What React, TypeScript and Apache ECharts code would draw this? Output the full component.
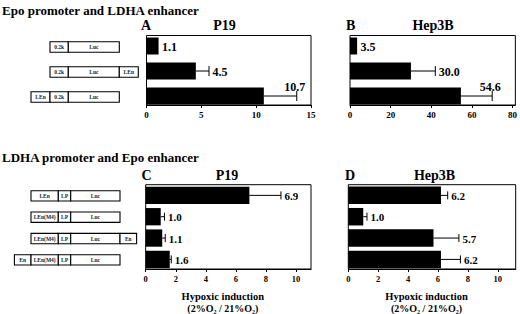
import React, { useEffect, useRef } from "react";
import * as echarts from "echarts";

// ---- text content ----
const sectionTitles = ["Epo promoter and LDHA enhancer", "LDHA promoter and Epo enhancer"];
const panelLetters = ["A", "B", "C", "D"];
const panelCells = ["P19", "Hep3B", "P19", "Hep3B"];
const xAxisName = "Hypoxic induction";
const xAxisUnit = "(2%O₂ / 21%O₂)";

// ---- constructs (segment labels, left to right) ----
const epoConstructs = [
  ["0.2k", "Luc"],
  ["0.2k", "Luc", "LEn"],
  ["LEn", "0.2k", "Luc"],
];
const ldhaConstructs = [
  ["LEn", "LP", "Luc"],
  ["LEn(M4)", "LP", "Luc"],
  ["LEn(M4)", "LP", "Luc", "En"],
  ["En", "LEn(M4)", "LP", "Luc"],
];

// ---- values (bar value, SD) ----
const p19EpoValues = [1.1, 4.5, 10.7];
const p19EpoErrors = [0, 1.2, 3.0];
const hep3bEpoValues = [3.5, 30.0, 54.6];
const hep3bEpoErrors = [0, 12, 15.4];
const p19LdhaValues = [6.9, 1.0, 1.1, 1.6];
const p19LdhaErrors = [2.1, 0.25, 0.2, 0.1];
const hep3bLdhaValues = [6.2, 1.0, 5.7, 6.2];
const hep3bLdhaErrors = [0.45, 0.25, 1.7, 1.3];

// ---- tick labels ----
const p19EpoTicks = [0, 5, 10, 15];
const hep3bEpoTicks = [0, 20, 40, 60, 80];
const ldhaTicks = [0, 2, 4, 6, 8, 10];

const SERIF = '"Liberation Serif", "Times New Roman", serif';

type Panel = {
  grid: { left: number; top: number; width: number; height: number };
  xMax: number;
  ticks: number[];
  yMin: number;
  yMax: number;
  barFrac: number;
  cap: number;
  labelSize: number;
  tickSize: number;
  values: number[];
  errors: number[];
  showName: boolean;
};

const panels: Panel[] = [
  {
    grid: { left: 146.5, top: 35.5, width: 164.5, height: 69.5 },
    xMax: 15, ticks: p19EpoTicks, yMin: -0.42, yMax: 2.36, barFrac: 0.68, cap: 5,
    labelSize: 12, tickSize: 9, values: p19EpoValues, errors: p19EpoErrors, showName: false,
  },
  {
    grid: { left: 350, top: 35.5, width: 165.5, height: 69.5 },
    xMax: 81.4, ticks: hep3bEpoTicks, yMin: -0.42, yMax: 2.36, barFrac: 0.68, cap: 5,
    labelSize: 12, tickSize: 9, values: hep3bEpoValues, errors: hep3bEpoErrors, showName: false,
  },
  {
    grid: { left: 145.7, top: 184.7, width: 165.3, height: 84.6 },
    xMax: 11, ticks: ldhaTicks, yMin: -0.5, yMax: 3.45, barFrac: 0.81, cap: 4,
    labelSize: 11, tickSize: 8.5, values: p19LdhaValues, errors: p19LdhaErrors, showName: true,
  },
  {
    grid: { left: 348.3, top: 184.7, width: 167.4, height: 84.6 },
    xMax: 11.2, ticks: ldhaTicks, yMin: -0.5, yMax: 3.45, barFrac: 0.82, cap: 4,
    labelSize: 11, tickSize: 8.5, values: hep3bLdhaValues, errors: hep3bLdhaErrors, showName: true,
  },
];

// construct drawing layout
const epoSegWidths: Record<string, number> = { "0.2k": 18.3, Luc: 51, LEn: 19 };
const ldhaSegWidths: Record<string, number> = { LEn: 27.3, "LEn(M4)": 27.3, LP: 12.4, Luc: 49.3, En: 16.6 };

export default function App() {
  const ref = useRef<HTMLDivElement>(null);

  useEffect(() => {
    if (!ref.current) return;
    const chart = echarts.init(ref.current, undefined, { renderer: "svg" });

    const grids = panels.map((p) => ({
      ...p.grid,
      show: true,
      borderColor: "#000",
      borderWidth: 1,
      backgroundColor: "transparent",
      containLabel: false,
    }));

    const xAxes = panels.map((p, gi) => {
      const interval = p.ticks[1] - p.ticks[0];
      return {
        type: "value",
        gridIndex: gi,
        position: "bottom",
        min: 0,
        max: p.xMax,
        interval,
        splitLine: { show: false },
        axisLine: { show: true, onZero: false, lineStyle: { color: "#000", width: 1 } },
        axisTick: { show: true, length: 3, lineStyle: { color: "#000" } },
        axisLabel: {
          show: true,
          margin: 5,
          color: "#000",
          fontFamily: SERIF,
          fontWeight: "bold",
          fontSize: p.tickSize,
          showMaxLabel: p.ticks.includes(p.xMax) ? true : false,
          formatter: (v: number) => (p.ticks.includes(v) ? String(v) : ""),
        },
        name: p.showName ? `{a|${xAxisName}}\n{b|${xAxisUnit}}` : "",
        nameLocation: "middle",
        nameGap: 21,
        nameTextStyle: {
          color: "#000",
          fontFamily: SERIF,
          padding: [0, 11, 0, 0],
          rich: {
            a: { fontFamily: SERIF, fontWeight: "bold", fontSize: 10.5, lineHeight: 12, color: "#000" },
            b: { fontFamily: SERIF, fontWeight: "bold", fontSize: 10, lineHeight: 12, color: "#000" },
          },
        },
      };
    });

    const yAxes = panels.map((p, gi) => ({
      type: "value",
      gridIndex: gi,
      min: p.yMin,
      max: p.yMax,
      inverse: true,
      show: false,
      axisLine: { show: false, onZero: false },
      splitLine: { show: false },
    }));

    const series = panels.map((p, gi) => ({
      type: "custom",
      xAxisIndex: gi,
      yAxisIndex: gi,
      encode: { x: [0, 1], y: 2 },
      data: p.values.map((v, i) => [v, p.errors[i], i]),
      renderItem: (params: any, api: any) => {
        const v = api.value(0) as number;
        const e = api.value(1) as number;
        const i = api.value(2) as number;
        const start = api.coord([0, i]);
        const end = api.coord([v, i]);
        const capPt = api.coord([v + e, i]);
        const band = Math.abs(api.size([0, 1])[1]);
        const h = band * p.barFrac;
        const children: any[] = [
          {
            type: "rect",
            shape: { x: start[0], y: start[1] - h / 2, width: end[0] - start[0], height: h },
            style: { fill: "#000" },
          },
        ];
        if (e > 0) {
          children.push({
            type: "line",
            shape: { x1: end[0], y1: end[1], x2: capPt[0], y2: capPt[1] },
            style: { stroke: "#000", lineWidth: 1 },
          });
          children.push({
            type: "line",
            shape: { x1: capPt[0], y1: capPt[1] - p.cap, x2: capPt[0], y2: capPt[1] + p.cap },
            style: { stroke: "#000", lineWidth: 1 },
          });
        }
        const tipX = Math.max(end[0], capPt[0]);
        const right = params.coordSys.x + params.coordSys.width;
        const label = v.toFixed(1);
        const font = `bold ${p.labelSize}px ${SERIF}`;
        if (tipX + 26 > right) {
          children.push({
            type: "text",
            x: tipX - 2,
            y: end[1] - 3.5,
            style: { text: label, font, fill: "#000", align: "center", verticalAlign: "bottom" },
          });
        } else {
          children.push({
            type: "text",
            x: tipX + 3.5,
            y: end[1] + 0.5,
            style: { text: label, font, fill: "#000", align: "left", verticalAlign: "middle" },
          });
        }
        return { type: "group", children };
      },
    }));

    chart.setOption({
      animation: false,
      backgroundColor: "#fff",
      grid: grids,
      xAxis: xAxes,
      yAxis: yAxes,
      series,
    });

    // graphic: titles, panel headers, construct diagrams
    const graphics: any[] = [];
    const titleFont = `bold 13px ${SERIF}`;
    graphics.push({ type: "text", x: 2, y: 10, style: { text: sectionTitles[0], font: titleFont, fill: "#000", align: "left", verticalAlign: "middle" } });
    graphics.push({ type: "text", x: 2, y: 157.5, style: { text: sectionTitles[1], font: titleFont, fill: "#000", align: "left", verticalAlign: "middle" } });

    const letterX = [141, 346, 141.5, 345];
    const cellX = [224.5, 433, 227, 434.5];
    const headY = [25.5, 25.5, 175.5, 175.5];
    const headFont = `bold 14px ${SERIF}`;
    panels.forEach((_, gi) => {
      graphics.push({ type: "text", x: letterX[gi], y: headY[gi], style: { text: panelLetters[gi], font: headFont, fill: "#000", align: "left", verticalAlign: "middle" } });
      graphics.push({ type: "text", x: cellX[gi], y: headY[gi], style: { text: panelCells[gi], font: headFont, fill: "#000", align: "center", verticalAlign: "middle" } });
    });

    const drawConstructs = (rows: string[][], widths: Record<string, number>, anchorLabel: string, anchorX: number, gi: number, boxH: number, dy: number) => {
      rows.forEach((segs, i) => {
        const cy = (chart.convertToPixel({ gridIndex: gi } as any, [0, i]) as number[])[1] + dy;
        const ai = segs.indexOf(anchorLabel);
        let x = anchorX;
        for (let k = 0; k < ai; k++) x -= widths[segs[k]];
        segs.forEach((s) => {
          const w = widths[s];
          graphics.push({
            type: "rect",
            shape: { x, y: cy - boxH / 2, width: w, height: boxH },
            style: { fill: "#fff", stroke: "#000", lineWidth: 1.1 },
          });
          graphics.push({
            type: "text",
            x: x + w / 2,
            y: cy,
            style: { text: s, font: `bold 5.5px ${SERIF}`, fill: "#222", align: "center", verticalAlign: "middle" },
          });
          x += w;
        });
      });
    };
    drawConstructs(epoConstructs, epoSegWidths, "0.2k", 50, 0, 10.5, 1);
    drawConstructs(ldhaConstructs, ldhaSegWidths, "LP", 58.3, 2, 10.3, 0.5);

    chart.setOption({ graphic: graphics });

    return () => chart.dispose();
  }, []);

  return (
    <div
      ref={ref}
      style={{ position: "fixed", left: 0, top: 0, width: 520, height: 314, background: "#fff" }}
    />
  );
}
